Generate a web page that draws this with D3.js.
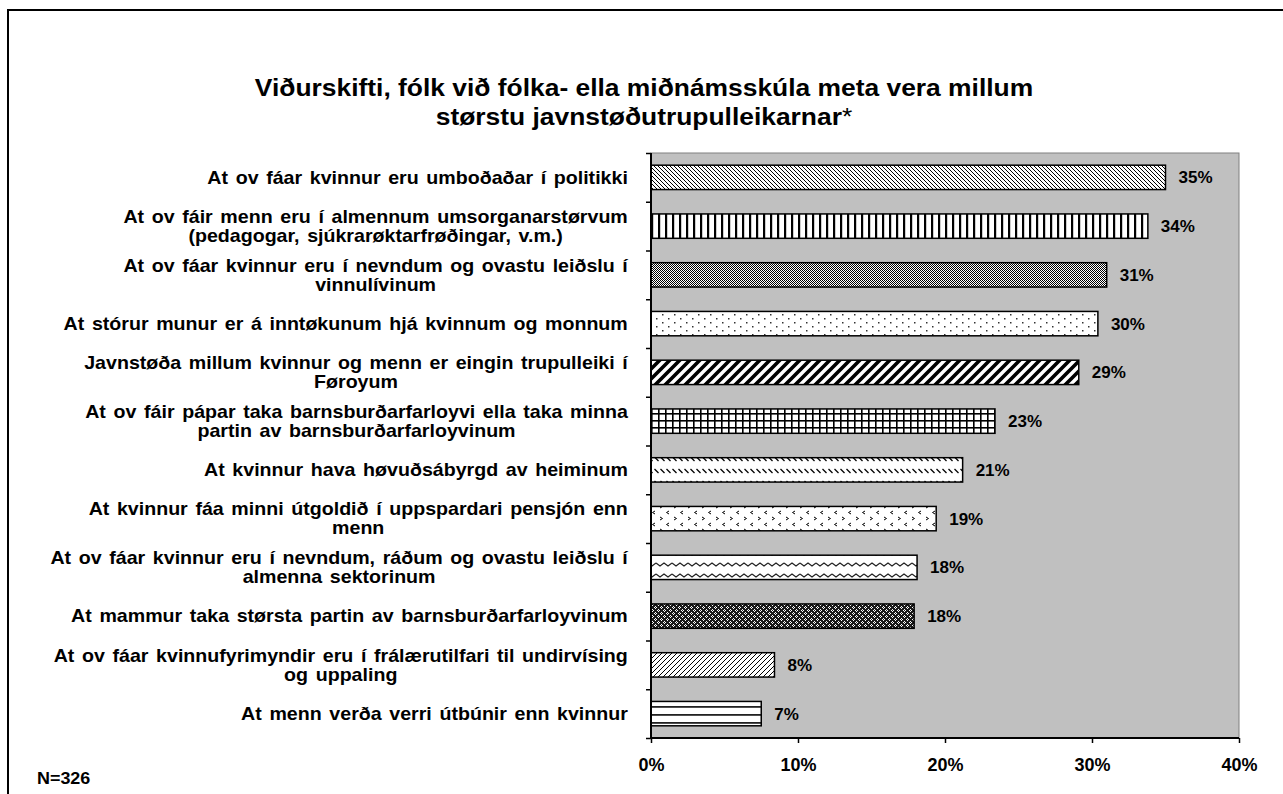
<!DOCTYPE html>
<html>
<head>
<meta charset="utf-8">
<script src="https://cdn.jsdelivr.net/npm/d3@7"></script>
<style>
  body { margin: 0; background: #fff; }
  svg { display: block; font-family: "Liberation Sans", Arial, sans-serif; }
  .bold { font-weight: bold; }
</style>
</head>
<body>
<div id="chart"></div>
<script>
// kategoriir (linjuskift sum í upprunaliga diagramminum)
const categories = [
    ['At ov fáar kvinnur eru umboðaðar í politikki'],
    ['At ov fáir menn eru í almennum umsorganarstørvum', '(pedagogar, sjúkrarøktarfrøðingar, v.m.)'],
    ['At ov fáar kvinnur eru í nevndum og ovastu leiðslu í', 'vinnulívinum'],
    ['At stórur munur er á inntøkunum hjá kvinnum og monnum'],
    ['Javnstøða millum kvinnur og menn er eingin trupulleiki í', 'Føroyum'],
    ['At ov fáir pápar taka barnsburðarfarloyvi ella taka minna', 'partin av barnsburðarfarloyvinum'],
    ['At kvinnur hava høvuðsábyrgd av heiminum'],
    ['At kvinnur fáa minni útgoldið í uppspardari pensjón enn', 'menn'],
    ['At ov fáar kvinnur eru í nevndum, ráðum og ovastu leiðslu í', 'almenna sektorinum'],
    ['At mammur taka størsta partin av barnsburðarfarloyvinum'],
    ['At ov fáar kvinnufyrimyndir eru í frálærutilfari til undirvísing', 'og uppaling'],
    ['At menn verða verri útbúnir enn kvinnur']
];
const values = [0.350, 0.338, 0.310, 0.304, 0.291, 0.234, 0.212, 0.194, 0.181, 0.179, 0.084, 0.075];
const valueLabels = ['35%', '34%', '31%', '30%', '29%', '23%', '21%', '19%', '18%', '18%', '8%', '7%'];
const patternIds = ['dnDiag', 'vert', 'dots50', 'sparse', 'wideUp', 'grid', 'dashDn', 'divot', 'wave', 'plaid', 'ltUp', 'horiz'];
const xTicks = [0, 0.1, 0.2, 0.3, 0.4];
const titleLines = ['Viðurskifti, fólk við fólka- ella miðnámsskúla meta vera millum', 'størstu javnstøðutrupulleikarnar'];
const note = 'N=326';

const width = 1283, height = 794;
const plot = {left: 651, right: 1239, top: 153, bottom: 738};

const svg = d3.select('#chart').append('svg')
    .attr('width', width)
    .attr('height', height);

// ramma
svg.append('rect')
    .attr('x', 8).attr('y', 10)
    .attr('width', 1300).attr('height', 820)
    .attr('fill', '#fff')
    .attr('stroke', '#000')
    .attr('stroke-width', 2);

// mynstur
const defs = svg.append('defs');
function addPattern(id, w, h, bg, draw) {
    const p = defs.append('pattern')
        .attr('id', id)
        .attr('patternUnits', 'userSpaceOnUse')
        .attr('width', w).attr('height', h);
    p.append('rect').attr('width', w).attr('height', h).attr('fill', bg);
    draw(p);
}
const ln = (p, d, sw, c) => p.append('path').attr('d', d).attr('stroke', c || '#000').attr('stroke-width', sw).attr('fill', 'none');
const px = (p, x, y, w, h, c) => p.append('rect').attr('x', x).attr('y', y).attr('width', w).attr('height', h).attr('fill', c);

addPattern('dnDiag', 4, 4, '#fff', p => ln(p, 'M-1,-1L5,5M-1,3L1,5M3,-1L5,1', 1));
addPattern('vert', 7, 4, '#fff', p => px(p, 0, 0, 2.2, 4, '#000'));
addPattern('dots50', 2, 2, '#fff', p => { px(p, 0, 0, 1, 1, '#000'); px(p, 1, 1, 1, 1, '#000'); });
addPattern('sparse', 12, 8, '#fff', p => { px(p, 2, 2, 1.5, 1.5, '#333'); px(p, 8, 6, 1.5, 1.5, '#333'); });
addPattern('wideUp', 10, 10, '#fff', p => ln(p, 'M-5,5L5,-5M0,10L10,0M5,15L15,5', 3.6));
addPattern('grid', 7, 7, '#fff', p => { px(p, 0, 0, 1.6, 7, '#000'); px(p, 0, 0, 7, 1.6, '#000'); });
addPattern('dashDn', 6, 12, '#fff', p => ln(p, 'M0.5,1L4.5,5', 1.3));
addPattern('divot', 14, 12, '#fff', p => ln(p, 'M2,1L4.5,2.5L2,4M11,7L8.5,8.5L11,10', 1));
addPattern('wave', 16, 11, '#fff', p => ln(p, 'M0,2L4,5L8,2L12,5L16,2', 1.2, '#222'));
addPattern('plaid', 6, 6, '#1a1a1a', p => {
    [[1, 0], [0, 1], [2, 1], [1, 2], [4, 3], [3, 4], [5, 4], [4, 5]]
        .forEach(([x, y]) => px(p, x, y, 1, 1, '#fff'));
});
addPattern('ltUp', 5, 5, '#fff', p => ln(p, 'M0,5L5,0M-1,1L1,-1M4,6L6,4', 1));
addPattern('horiz', 4, 8, '#fff', p => px(p, 0, 2, 4, 1.8, '#222'));

// skalar
const x = d3.scaleLinear().domain([0, 0.4]).range([plot.left, plot.right]);
const y = d3.scaleBand()
    .domain(d3.range(categories.length))
    .range([plot.top, plot.bottom])
    .paddingInner(0.5)
    .paddingOuter(0.25);
const yEdges = d3.scaleLinear().domain([0, categories.length]).range([plot.top, plot.bottom]);

// plot øki
svg.append('rect')
    .attr('x', plot.left).attr('y', plot.top)
    .attr('width', plot.right - plot.left)
    .attr('height', plot.bottom - plot.top)
    .attr('fill', '#c0c0c0')
    .attr('stroke', '#808080')
    .attr('stroke-width', 1);

// stólpar
svg.append('g').selectAll('rect')
    .data(values)
    .join('rect')
    .attr('x', x(0))
    .attr('y', (d, i) => y(i))
    .attr('width', d => x(d) - x(0))
    .attr('height', y.bandwidth())
    .attr('fill', (d, i) => `url(#${patternIds[i]})`)
    .attr('stroke', '#000')
    .attr('stroke-width', 1.5);

// virðisspjøld
svg.append('g').selectAll('text')
    .data(values)
    .join('text')
    .attr('class', 'bold')
    .attr('x', d => x(d) + 13)
    .attr('y', (d, i) => y(i) + y.bandwidth() / 2)
    .attr('dy', '0.35em')
    .attr('font-size', 17)
    .text((d, i) => valueLabels[i]);

// ásir
const xAxis = svg.append('g')
    .attr('transform', `translate(0,${plot.bottom})`)
    .call(d3.axisBottom(x).tickValues(xTicks).tickFormat(d3.format('.0%')).tickSize(5).tickPadding(15));
xAxis.select('.domain').attr('stroke', '#000').attr('stroke-width', 2).attr('d', `M${plot.left},0H${plot.right}`);
xAxis.selectAll('.tick line').attr('stroke', '#000').attr('stroke-width', 1.5);
xAxis.selectAll('text').attr('class', 'bold').attr('font-size', 18).attr('font-family', null).attr('fill', '#000');

const yAxis = svg.append('g')
    .attr('transform', `translate(${plot.left},0)`)
    .call(d3.axisLeft(yEdges).tickValues(d3.range(categories.length + 1)).tickFormat('').tickSize(5));
yAxis.select('.domain').attr('stroke', '#000').attr('stroke-width', 2).attr('d', `M0,${plot.top}V${plot.bottom}`);
yAxis.selectAll('.tick line').attr('stroke', '#000').attr('stroke-width', 1.5);

// kategori-spjøld (tekstin er breiðari í upprunanum, tí strekt vit hann vatnrætt)
const labelRight = 628, lineH = 19, stretch = 1.09;
categories.forEach((lines, i) => {
    const g = svg.append('g');
    const t = g.append('text')
        .attr('class', 'bold')
        .attr('font-size', 18)
        .attr('word-spacing', 2)
        .attr('text-anchor', 'middle');
    const cy = y(i) + y.bandwidth() / 2;
    const spans = lines.map((s, j) => t.append('tspan')
        .attr('x', 0)
        .attr('y', cy + (j - (lines.length - 1) / 2) * lineH)
        .attr('dy', '0.35em')
        .text(s));
    const maxW = d3.max(spans, s => s.node().getComputedTextLength());
    g.attr('transform', `translate(${labelRight - maxW * stretch / 2},0) scale(${stretch},1)`);
});

// heiti
const title = svg.append('text')
    .attr('class', 'bold')
    .attr('font-size', 24)
    .attr('text-anchor', 'middle')
    .attr('transform', 'translate(644,0) scale(1.1,1)');
title.append('tspan').attr('x', 0).attr('y', 96).text(titleLines[0]);
const t2 = title.append('tspan').attr('x', 0).attr('y', 125).text(titleLines[1]);
t2.append('tspan').attr('font-weight', 'normal').text('*');

svg.append('text')
    .attr('class', 'bold')
    .attr('x', 37).attr('y', 784)
    .attr('font-size', 16)
    .attr('transform', 'translate(37,0) scale(1.12,1) translate(-37,0)')
    .text(note);
</script>
</body>
</html>
